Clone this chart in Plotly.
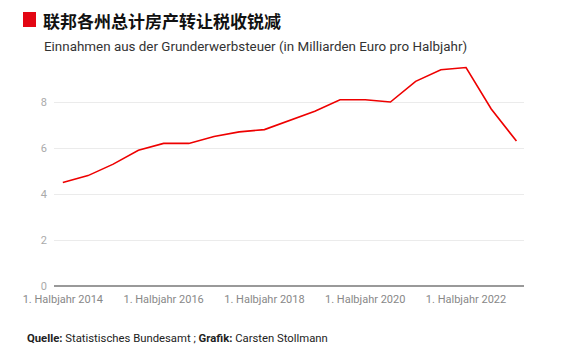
import plotly.graph_objects as go

periods = ["2014 H1","2014 H2","2015 H1","2015 H2","2016 H1","2016 H2","2017 H1","2017 H2",
           "2018 H1","2018 H2","2019 H1","2019 H2","2020 H1","2020 H2","2021 H1","2021 H2",
           "2022 H1","2022 H2","2023 H1"]
values = [4.5, 4.8, 5.3, 5.9, 6.2, 6.2, 6.5, 6.7, 6.8, 7.2, 7.6, 8.1, 8.1, 8.0, 8.9, 9.4, 9.5, 7.7, 6.3]
tick_labels = ["1. Halbjahr 2014", "1. Halbjahr 2016", "1. Halbjahr 2018", "1. Halbjahr 2020", "1. Halbjahr 2022"]
tick_periods = ["2014 H1", "2016 H1", "2018 H1", "2020 H1", "2022 H1"]

x = list(range(len(periods)))
tickvals = [periods.index(p) for p in tick_periods]

fig = go.Figure(go.Scatter(x=x, y=values, mode="lines",
                           line=dict(color="#ee0000", width=1.6), hoverinfo="skip"))

W, H = 567, 359
L, R, T, B = 54, 43, 62, 73
pw, ph = W - L - R, H - T - B
def px(v): return (v - L) / pw
def py(v): return (H - B - v) / ph

fig.update_layout(
    width=W, height=H,
    margin=dict(l=L, r=R, t=T, b=B),
    plot_bgcolor="white", paper_bgcolor="white",
    showlegend=False,
    font=dict(family="Roboto", color="#999"),
    xaxis=dict(range=[-0.35, 18.3], tickvals=tickvals, ticktext=tick_labels,
               showgrid=False, zeroline=False, showline=False, ticks="",
               ticklabelstandoff=5,
               tickfont=dict(size=11, color="#888")),
    yaxis=dict(range=[0, 9.74], tickvals=[0, 2, 4, 6, 8], showgrid=True,
               gridcolor="#ebebeb", gridwidth=1, zeroline=True, zerolinecolor="#999",
               zerolinewidth=1.5, ticks="", ticklabelstandoff=6,
               tickfont=dict(size=11, color="#aaa")),
    shapes=[dict(type="rect", xref="paper", yref="paper",
                 x0=px(23), x1=px(36), y0=py(27), y1=py(12),
                 fillcolor="#e30613", line=dict(width=0))],
    annotations=[
        dict(text="<b>联邦各州总计房产转让税收锐减</b>", xref="paper", yref="paper",
             x=px(41), y=py(20), xanchor="left", yanchor="middle", showarrow=False,
             font=dict(family="Noto Sans CJK SC", size=17, color="#111")),
        dict(text="Einnahmen aus der Grunderwerbsteuer (in Milliarden Euro pro Halbjahr)",
             xref="paper", yref="paper", x=px(42), y=py(46), xanchor="left", yanchor="middle",
             showarrow=False, font=dict(family="Roboto", size=13.4, color="#333")),
        dict(text="<b>Quelle:</b> Statistisches Bundesamt ; <b>Grafik:</b> Carsten Stollmann",
             xref="paper", yref="paper", x=px(25), y=py(338), xanchor="left", yanchor="middle",
             showarrow=False, font=dict(family="Roboto", size=11.3, color="#222")),
    ],
)

fig.write_html("out.html", config={"displayModeBar": False},
               post_script="document.body.style.margin='0';")
